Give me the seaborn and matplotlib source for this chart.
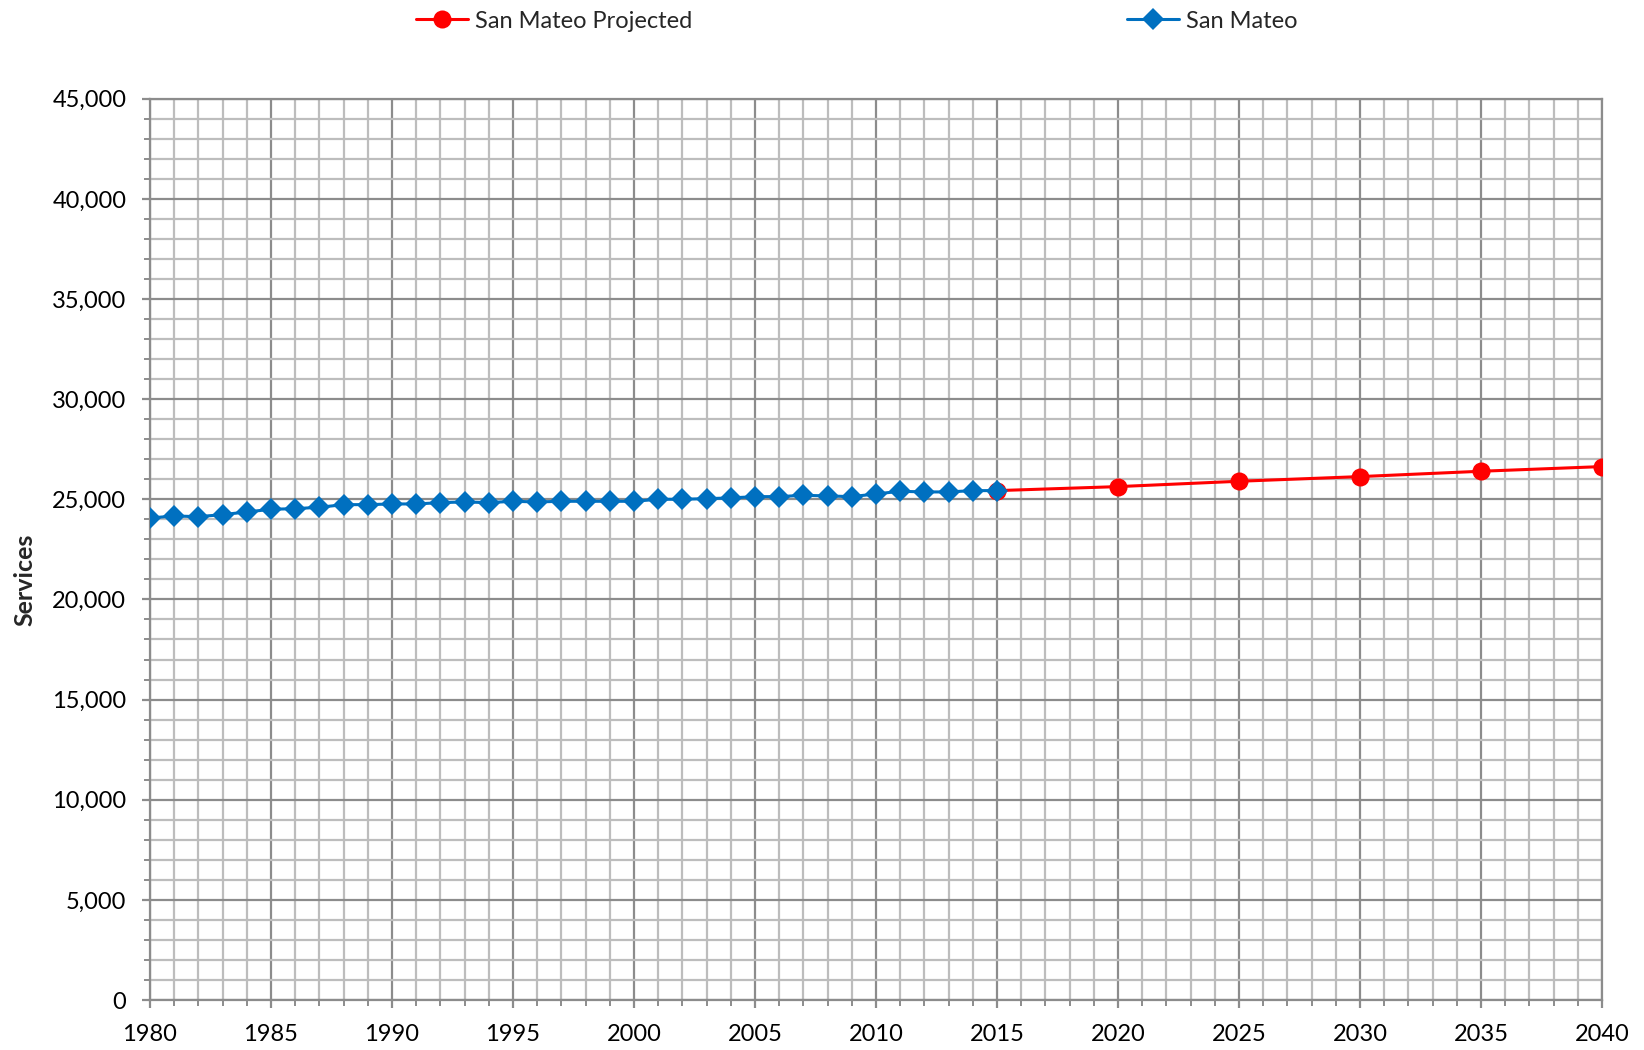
import matplotlib
matplotlib.use("Agg")
import matplotlib.pyplot as plt
import matplotlib.ticker as mticker
import seaborn as sns

# historic services
YEARS = list(range(1980, 2016))
SERVICES = [24065, 24167, 24133, 24233, 24367, 24500, 24533, 24600, 24733, 24733,
            24767, 24767, 24833, 24867, 24833, 24900, 24867, 24900, 24900, 24900,
            24900, 25000, 25000, 25033, 25067, 25133, 25133, 25200, 25167, 25133,
            25267, 25400, 25367, 25367, 25433, 25433]

# projection
PROJ_YEARS = [2015, 2020, 2025, 2030, 2035, 2040]
PROJ_SERVICES = [25433, 25633, 25900, 26133, 26400, 26633]

BLUE = "#0070C0"
RED = "#FF0000"


def main():
    sns.set_theme(style="white")
    plt.rcParams["font.family"] = ["Lato", "DejaVu Sans"]

    fig = plt.figure(figsize=(16.44, 10.5), dpi=100)
    ax = fig.add_axes([0.0912, 0.0476, 0.8833, 0.8584])

    sns.lineplot(x=PROJ_YEARS, y=PROJ_SERVICES, ax=ax, color=RED, lw=2.2,
                 marker="o", markersize=13, markeredgewidth=0,
                 label="San Mateo Projected", zorder=3)
    sns.lineplot(x=YEARS, y=SERVICES, ax=ax, color=BLUE, lw=2.2,
                 marker="D", markersize=11, markeredgewidth=0,
                 label="San Mateo", zorder=4)

    ax.set_xlim(1980, 2040)
    ax.set_ylim(0, 45000)
    ax.xaxis.set_major_locator(mticker.MultipleLocator(5))
    ax.xaxis.set_minor_locator(mticker.MultipleLocator(1))
    ax.yaxis.set_major_locator(mticker.MultipleLocator(5000))
    ax.yaxis.set_minor_locator(mticker.MultipleLocator(1000))
    ax.yaxis.set_major_formatter(mticker.FuncFormatter(lambda v, p: f"{v:,.0f}"))

    ax.grid(which="major", color="#8c8c8c", lw=1.6)
    ax.grid(which="minor", color="#bdbdbd", lw=1.6)
    ax.set_axisbelow(True)
    for s in ax.spines.values():
        s.set_color("#8c8c8c")
        s.set_linewidth(1.6)

    ax.tick_params(which="major", direction="out", length=6, width=1.6,
                   color="#8c8c8c", labelsize=17, pad=11, colors="#8c8c8c",
                   labelcolor="black", left=True, bottom=True)
    ax.tick_params(which="minor", direction="out", length=4, width=1.4,
                   color="#8c8c8c", left=True, bottom=True)

    ax.set_xlabel("")
    ax.set_ylabel("Services", fontsize=18, fontweight="bold")
    # label sits a little below the middle in the original
    ax.yaxis.set_label_coords(-0.078, 0.466)

    ax.get_legend().remove()
    h, l = ax.get_legend_handles_labels()
    fig.legend(h, l, loc="upper center", bbox_to_anchor=(0.521, 1.010), ncol=2,
               frameon=False, fontsize=17, handlelength=2.2, handletextpad=0.3,
               columnspacing=18.4)

    fig.savefig("out.png", dpi=100)
    plt.close(fig)


if __name__ == "__main__":
    main()
